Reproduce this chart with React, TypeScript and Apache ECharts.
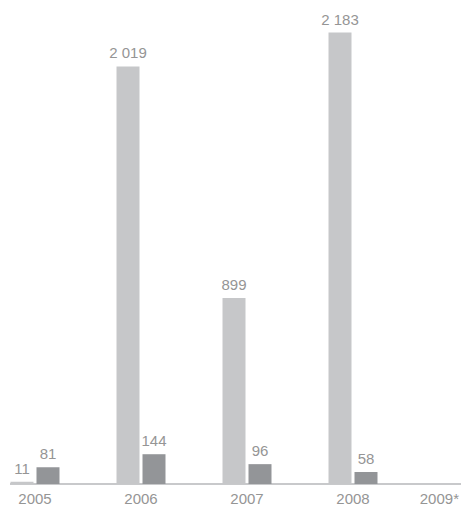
import React, { useEffect, useRef } from "react";
import * as echarts from "echarts";

const categories = ["2005", "2006", "2007", "2008", "2009*"];
const lightValues: (number | null)[] = [11, 2019, 899, 2183, null];
const darkValues: (number | null)[] = [81, 144, 96, 58, null];

const fmt = (v: number) => String(v).replace(/\B(?=(\d{3})+(?!\d))/g, " ");

const FONT = "Liberation Sans, Arial, sans-serif";
const TEXT_COLOR = "#959595";

export default function App() {
  const ref = useRef<HTMLDivElement>(null);
  useEffect(() => {
    document.body.style.margin = "0";
    const chart = echarts.init(ref.current!, undefined, { renderer: "svg" });
    const labelStyle = {
      show: true,
      position: "top" as const,
      distance: 6,
      color: TEXT_COLOR,
      fontSize: 15,
      fontFamily: FONT,
      formatter: (p: any) => fmt(p.value),
    };
    chart.setOption({
      animation: false,
      grid: { left: 0, right: 0, top: 29, bottom: 21, containLabel: false },
      xAxis: {
        type: "category",
        data: categories,
        boundaryGap: true,
        axisLine: { show: true, lineStyle: { color: "#c8c9cb", width: 2 } },
        axisTick: { show: false },
        axisLabel: {
          interval: 0,
          margin: 7,
          color: TEXT_COLOR,
          fontSize: 15,
          fontFamily: FONT,
          alignMaxLabel: "right",
        },
        splitLine: { show: false },
      },
      yAxis: {
        type: "value",
        min: 0,
        max: 2200,
        show: false,
        splitLine: { show: false },
      },
      series: [
        {
          type: "bar",
          data: lightValues,
          barWidth: 23,
          barGap: "13%",
          itemStyle: { color: "#c6c7c9" },
          label: labelStyle,
        },
        {
          type: "bar",
          data: darkValues,
          barWidth: 23,
          barGap: "13%",
          itemStyle: { color: "#939598" },
          label: labelStyle,
        },
      ],
    });
    return () => chart.dispose();
  }, []);
  return (
    <div style={{ width: 451, height: 506, marginLeft: 10, overflow: "hidden", position: "relative" }}>
      <div
        ref={ref}
        style={{ position: "absolute", left: -28.5, top: 0, width: 530, height: 506 }}
      />
    </div>
  );
}
